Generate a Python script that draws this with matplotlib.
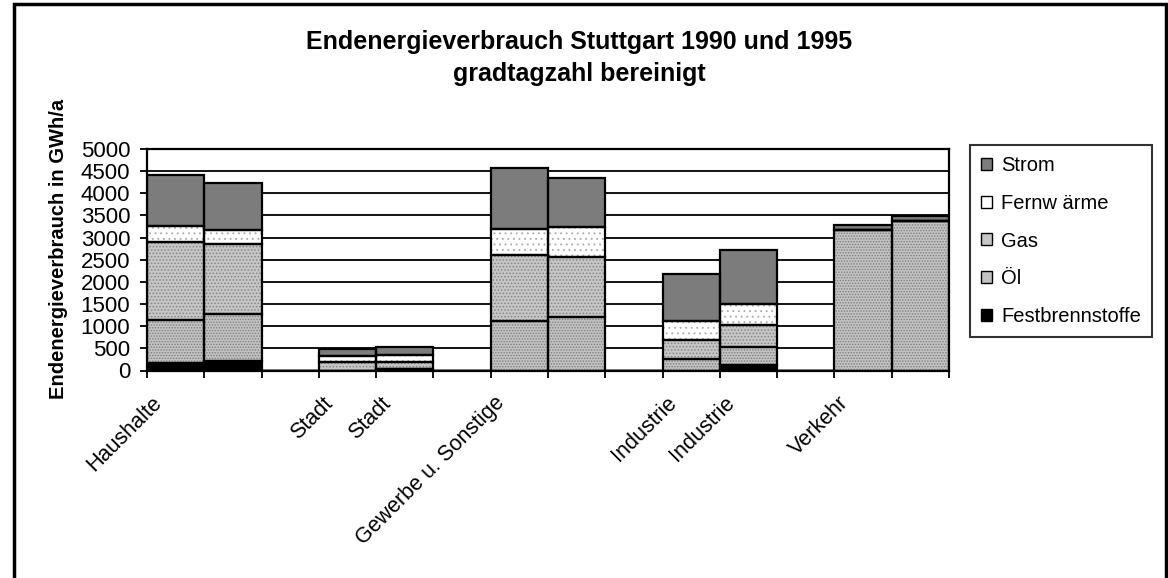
import numpy as np
import matplotlib.pyplot as plt
from matplotlib.patches import Patch, Rectangle
import matplotlib.transforms as mtransforms

plt.rcParams['font.family'] = ['Liberation Sans', 'DejaVu Sans']
plt.rcParams['hatch.linewidth'] = 0.7

# categories as in the original sheet (empty slots = gaps between groups)
categories = ['Haushalte', '', '', 'Stadt', 'Stadt', '', 'Gewerbe u. Sonstige', '',
              '', 'Industrie', 'Industrie', '', 'Verkehr', '']

# GWh/a, 1990 / 1995 bar pairs
fest = [165, 210, 0, 0, 45, 0, 0, 0, 0, 0, 130, 0, 0, 0]
oel = [980, 1070, 0, 0, 0, 0, 1110, 1210, 0, 265, 395, 0, 3175, 3365]
gas = [1755, 1575, 0, 185, 140, 0, 1490, 1355, 0, 415, 500, 0, 0, 0]
fern = [370, 325, 0, 145, 170, 0, 600, 675, 0, 435, 470, 0, 0, 0]
strom = [1140, 1055, 0, 155, 180, 0, 1360, 1095, 0, 1055, 1215, 0, 115, 115]

names = ['Festbrennstoffe', 'Öl', 'Gas', 'Fernw ärme', 'Strom']
faces = ['black', '#c2c2c2', '#c6c6c6', 'white', '#7c7c7c']
hatches = [None, '......', '.....', '...', None]
hatch_cols = [None, '#808080', '#868686', '#b0b0b0', None]

fig = plt.figure(figsize=(11.68, 5.78), dpi=100)
ax = fig.add_axes([147 / 1168, 1 - 370.5 / 578, 802 / 1168, 221.5 / 578])

x = np.arange(len(categories))
bottom = np.zeros(len(categories))
for vals, face, h, hc in zip([fest, oel, gas, fern, strom], faces, hatches, hatch_cols):
    vals = np.array(vals, dtype=float)
    ax.bar(x, vals, 1.0, bottom=bottom, color=face, lw=0, zorder=2)
    if h:
        ax.bar(x, vals, 1.0, bottom=bottom, fill=False, hatch=h, edgecolor=hc, lw=0, zorder=3)
    ax.bar(x, vals, 1.0, bottom=bottom, fill=False, edgecolor='black', lw=1.6, zorder=4)
    bottom += vals

ax.set_xlim(-0.5, len(categories) - 0.5)
ax.set_ylim(0, 5000)
ax.set_yticks(np.arange(0, 5001, 500))
ax.yaxis.grid(True, color='black', lw=1.3)
ax.set_axisbelow(True)
for s in ax.spines.values():
    s.set_linewidth(1.6)

ax.tick_params(axis='y', labelsize=16, length=5, width=1.3, pad=7)
ax.set_xticks(x)
ax.set_xticklabels(categories, rotation=45, ha='right', va='top', fontsize=15.5)
ax.set_xticks(np.arange(-0.5, len(categories)), minor=True)
ax.tick_params(axis='x', which='major', length=0, pad=16)
ax.tick_params(axis='x', which='minor', length=5, width=1.3)
offset = mtransforms.ScaledTranslation(-10 / 100, 0, fig.dpi_scale_trans)
for lab in ax.get_xticklabels():
    lab.set_transform(lab.get_transform() + offset)

fig.text(579 / 1168, 1 - 42 / 578, 'Endenergieverbrauch Stuttgart 1990 und 1995',
         ha='center', va='center', fontsize=18, fontweight='bold')
fig.text(579 / 1168, 1 - 74 / 578, 'gradtagzahl bereinigt',
         ha='center', va='center', fontsize=18, fontweight='bold')
fig.text(58 / 1168, 1 - 249 / 578, 'Endenergieverbrauch in GWh/a', rotation=90,
         ha='center', va='center', fontsize=14.5, fontweight='bold')

handles = [Patch(facecolor=f, edgecolor='black', lw=1.0) for f in faces][::-1]
leg = fig.legend(handles, names[::-1], loc='upper left', bbox_to_anchor=(970 / 1168, 1 - 145 / 578),
                 fontsize=14.5, frameon=True, fancybox=False, borderaxespad=0,
                 handlelength=0.55, handleheight=0.55, handletextpad=0.45,
                 labelspacing=0.93, borderpad=0.55)
leg.get_frame().set_edgecolor('black')
leg.get_frame().set_linewidth(1.5)

fig.patches.append(Rectangle((14 / 1168, -0.02), 1152 / 1168, 1.02 - 4 / 578,
                             transform=fig.transFigure, fill=False, edgecolor='black', lw=2.5))

fig.savefig('out.png', dpi=100)
